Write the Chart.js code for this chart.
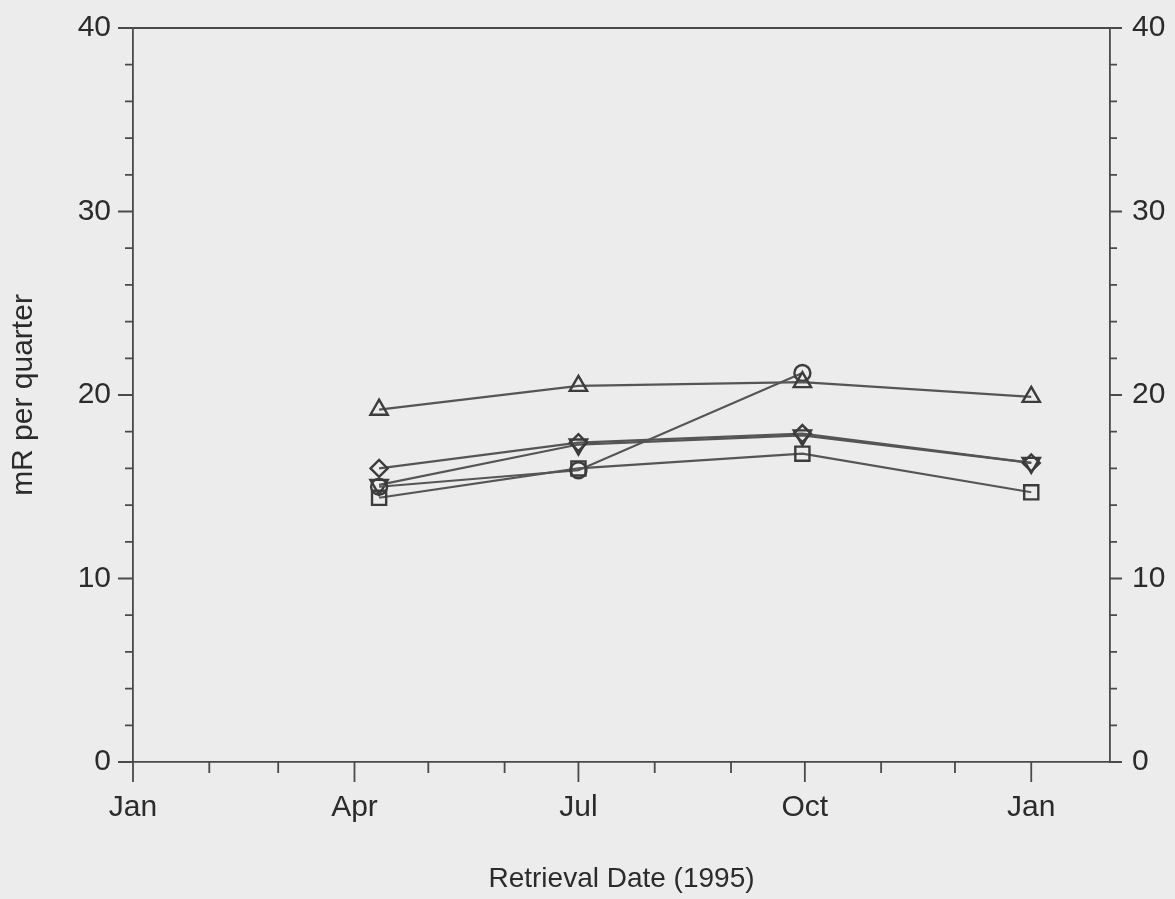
<!DOCTYPE html>
<html>
<head>
<meta charset="utf-8">
<script src="https://cdn.jsdelivr.net/npm/chart.js@4/dist/chart.umd.min.js"></script>
<style>
  body { margin: 0; background: #ececec; }
  canvas { display: block; }
</style>
</head>
<body>
<canvas id="myChart" width="1175" height="899"></canvas>
<script>
// days since Jan 1 1995 for each month start, and the labels shown under them
var monthStarts = [0, 31, 59, 90, 120, 151, 181, 212, 243, 273, 304, 334, 365];
var monthLabels = ['Jan', '', '', 'Apr', '', '', 'Jul', '', '', 'Oct', '', '', 'Jan'];

// retrieval dates (day of the year) and the readings at each station
var retrievalDays = [100, 181, 272, 365];
var seriesTriangle = [19.2, 20.5, 20.7, 19.9];
var seriesCircle = [15.0, 15.9, 21.2, null];
var seriesDiamond = [16.0, 17.4, 17.9, 16.3];
var seriesInvTriangle = [15.1, 17.3, 17.8, 16.3];
var seriesSquare = [14.4, 16.0, 16.8, 14.7];

var lineColor = '#4a4a4a';
var textColor = '#2b2b2b';
var fontFamily = 'Liberation Sans, Arial';

function toPoints(values) {
    return retrievalDays.map(function (d, i) { return { x: d, y: values[i] }; });
}

function makeSet(label, values, style, radius, rotation) {
    return {
        label: label,
        data: toPoints(values),
        borderColor: '#555555',
        borderWidth: 2.2,
        pointStyle: style,
        pointRadius: radius,
        pointRotation: rotation || 0,
        pointBorderWidth: 2.4,
        pointBorderColor: '#3c3c3c',
        pointBackgroundColor: 'rgba(0,0,0,0)'
    };
}

// short and long tick marks, plus the top frame line
var tickMarks = {
    id: 'tickMarks',
    afterDraw: function (chart) {
        var ctx = chart.ctx;
        var a = chart.chartArea;
        var x = chart.scales.x, y = chart.scales.y;
        ctx.save();
        ctx.strokeStyle = lineColor;
        ctx.lineWidth = 1.8;
        ctx.beginPath();
        monthStarts.forEach(function (d, i) {
            var px = x.getPixelForValue(d);
            var len = monthLabels[i] ? 20 : 11;
            ctx.moveTo(px, a.bottom);
            ctx.lineTo(px, a.bottom + len);
        });
        for (var v = 0; v <= 40; v += 2) {
            var py = y.getPixelForValue(v);
            var major = v % 10 === 0;
            ctx.moveTo(a.left, py);
            ctx.lineTo(a.left - (major ? 15 : 8), py);
            ctx.moveTo(a.right, py);
            ctx.lineTo(a.right + (major ? 12 : 7), py);
        }
        ctx.moveTo(a.left, a.top);
        ctx.lineTo(a.right, a.top);
        ctx.stroke();
        ctx.restore();
    }
};

var ctx = document.getElementById('myChart').getContext('2d');
new Chart(ctx, {
    type: 'line',
    data: {
        datasets: [
            makeSet('Triangle', seriesTriangle, 'triangle', 10),
            makeSet('Circle', seriesCircle, 'circle', 8),
            makeSet('Diamond', seriesDiamond, 'rectRot', 8.5),
            makeSet('Inverted triangle', seriesInvTriangle, 'triangle', 10, 180),
            makeSet('Square', seriesSquare, 'rect', 10)
        ]
    },
    options: {
        responsive: false,
        animation: false,
        layout: { padding: { top: 28, left: 0, right: 0, bottom: 0 } },
        plugins: { legend: { display: false }, tooltip: { enabled: false } },
        scales: {
            x: {
                type: 'linear',
                min: 0,
                max: 397,
                afterBuildTicks: function (scale) {
                    scale.ticks = monthStarts.map(function (d) { return { value: d }; });
                },
                afterFit: function (scale) { scale.height = 137; },
                grid: { drawOnChartArea: false, color: 'rgba(0,0,0,0)', tickLength: 20 },
                border: { color: lineColor, width: 1.8 },
                ticks: {
                    autoSkip: false,
                    maxRotation: 0,
                    padding: 8,
                    color: textColor,
                    font: { family: fontFamily, size: 30 },
                    callback: function (value, index) { return monthLabels[index]; }
                },
                title: {
                    display: true,
                    text: 'Retrieval Date (1995)',
                    color: textColor,
                    font: { family: fontFamily, size: 28 },
                    padding: { top: 0, bottom: 3 }
                }
            },
            y: {
                position: 'left',
                min: 0,
                max: 40,
                afterFit: function (scale) { scale.width = 133; },
                grid: { drawOnChartArea: false, color: 'rgba(0,0,0,0)', tickLength: 15 },
                border: { color: lineColor, width: 1.8 },
                ticks: {
                    stepSize: 10,
                    padding: 7,
                    color: textColor,
                    font: { family: fontFamily, size: 30 }
                },
                title: {
                    display: true,
                    text: 'mR per quarter',
                    color: textColor,
                    font: { family: fontFamily, size: 30 },
                    padding: { top: 6, bottom: 0 }
                }
            },
            y2: {
                position: 'right',
                min: 0,
                max: 40,
                afterFit: function (scale) { scale.width = 65; },
                grid: { drawOnChartArea: false, color: 'rgba(0,0,0,0)', tickLength: 12 },
                border: { color: lineColor, width: 1.8 },
                ticks: {
                    stepSize: 10,
                    padding: 10,
                    color: textColor,
                    font: { family: fontFamily, size: 30 }
                }
            }
        }
    },
    plugins: [tickMarks]
});
</script>
</body>
</html>
